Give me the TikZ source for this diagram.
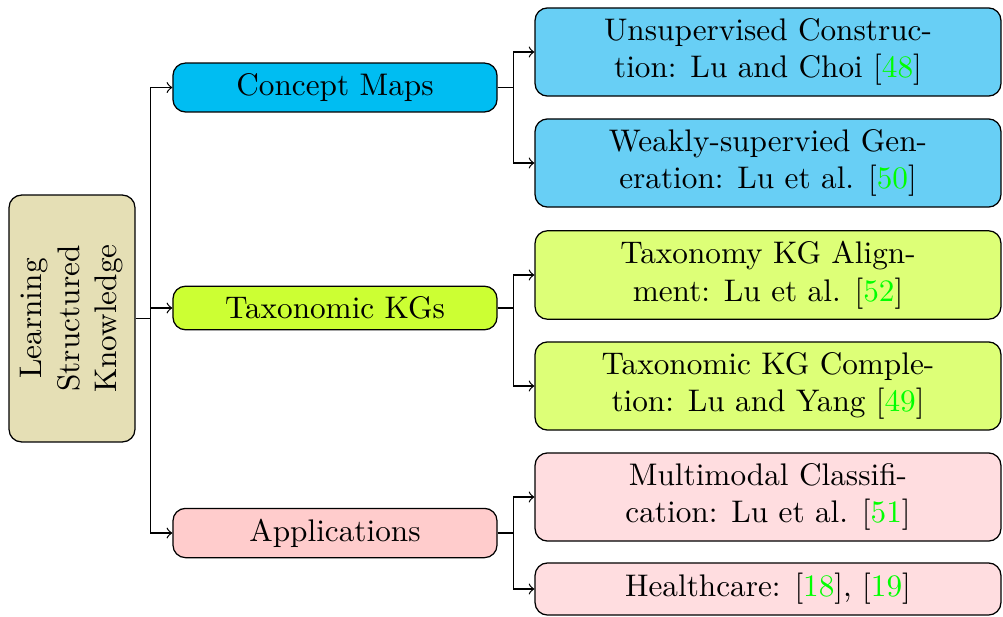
\documentclass[tikz,border=0pt]{standalone}
\usepackage{xcolor}
\definecolor{rootc}{HTML}{E5DFB5}
\definecolor{cmc}{HTML}{00BDF2}
\definecolor{cmleaf}{HTML}{68CFF5}
\definecolor{tkc}{HTML}{CCFF33}
\definecolor{tkleaf}{HTML}{DDFF77}
\definecolor{apc}{HTML}{FFCCCC}
\definecolor{apleaf}{HTML}{FFDDE0}
\newcommand{\citeg}[1]{[\textcolor{green}{#1}]}
\begin{document}
\begin{tikzpicture}[x=0.32pt,y=-0.32pt,
  box/.style={draw=black,rounded corners=4pt,align=center,font=\normalsize},
  rootbox/.style={box,fill=rootc,rotate=90,minimum width=79pt,minimum height=40.3pt},
  midbox/.style={box,minimum width=103.7pt},
  leafbox/.style={box,minimum width=149.1pt},
  link/.style={->,line width=0.4pt}]
\useasboundingbox (0,0) rectangle (1003,616);
\node[rootbox] (root) at (72,318.5) {Learning\\Structured\\Knowledge};
\node[midbox,fill=cmc] (cm) at (335,87.5) {Concept Maps};
\node[midbox,fill=tkc] (tk) at (335,308) {Taxonomic KGs};
\node[midbox,fill=apc] (ap) at (335,533) {Applications};
\node[leafbox,fill=cmleaf] (l1) at (768,52) {Unsupervised Construc-\\tion: Lu and Choi \citeg{48}};
\node[leafbox,fill=cmleaf] (l2) at (768,163) {Weakly-supervied Gen-\\eration: Lu et al. \citeg{50}};
\node[leafbox,fill=tkleaf] (l3) at (768,275) {Taxonomy KG Align-\\ment: Lu et al. \citeg{52}};
\node[leafbox,fill=tkleaf] (l4) at (768,386) {Taxonomic KG Comple-\\tion: Lu and Yang \citeg{49}};
\node[leafbox,fill=apleaf] (l5) at (768,497) {Multimodal Classifi-\\cation: Lu et al. \citeg{51}};
\node[leafbox,fill=apleaf] (l6) at (768,589) {Healthcare: \citeg{18}, \citeg{19}};
\foreach \m in {cm,tk,ap}
  \draw[link] (root.south) -- ([xshift=4.8pt]root.south) |- (\m.west);
\foreach \a/\b in {cm/l1,cm/l2,tk/l3,tk/l4,ap/l5,ap/l6}
  \draw[link] (\a.east) -- ([xshift=5pt]\a.east) |- (\b.west);
\end{tikzpicture}
\end{document}
